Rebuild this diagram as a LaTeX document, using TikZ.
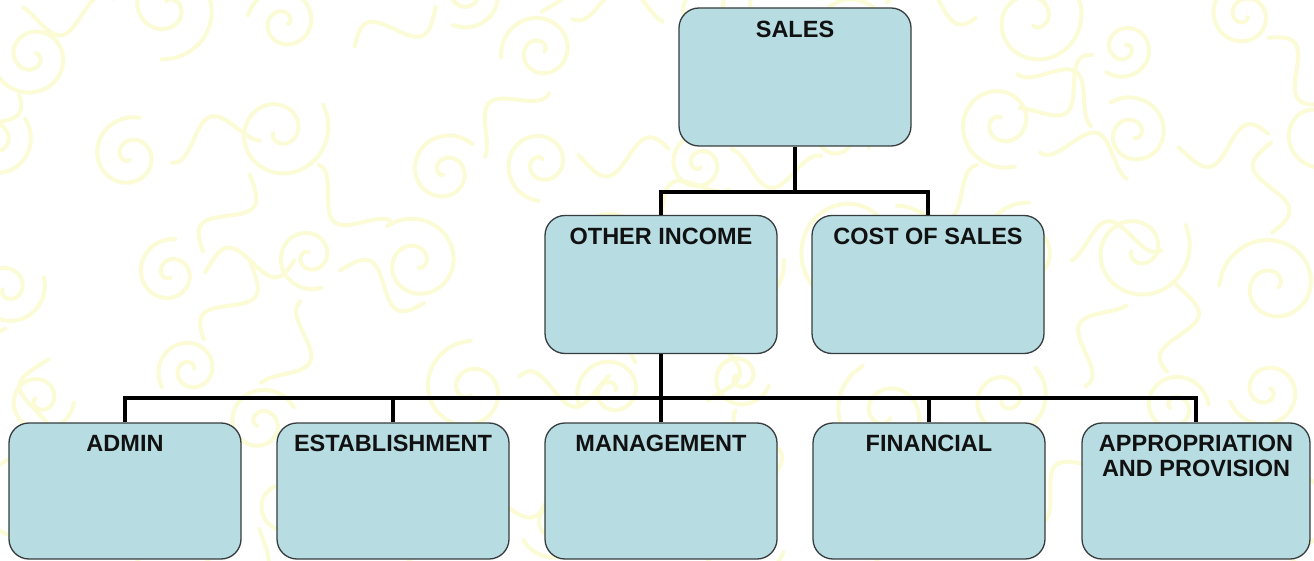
\documentclass[tikz,border=0pt]{standalone}
\usepackage{fontspec}
\setmainfont{Liberation Sans}
\definecolor{boxblue}{RGB}{183,221,227}
\definecolor{boxedge}{RGB}{55,60,62}
\definecolor{textdark}{RGB}{17,17,17}
\definecolor{swirlc}{RGB}{251,251,214}
\begin{document}
\begin{tikzpicture}[x=1pt,y=-1pt,
  box/.style={draw=boxedge, line width=1.3pt, fill=boxblue, rounded corners=20pt,
    minimum width=232pt, minimum height=138pt, inner sep=0pt},
  ttl/.style={font=\bfseries\fontsize{23.5}{25}\selectfont, text=textdark,
    inner sep=0pt, align=center, anchor=north},
  conn/.style={line width=4.5pt, draw=black, line join=miter},
  swirl/.style={draw=swirlc, line width=4pt, line cap=round}
]
\useasboundingbox (0,0) rectangle (1314,561);
\fill[white] (0,0) rectangle (1314,561);
\begin{scope}
\clip (0,0) rectangle (1314,561);
\pgfmathsetseed{11}
\foreach \i in {0,...,9}{
  \foreach \j in {0,...,4}{
    \pgfmathsetmacro{\cxx}{\i*140+rnd*80-20}
    \pgfmathsetmacro{\cyy}{\j*125+rnd*70-10}
    \pgfmathsetmacro{\rr}{30+rnd*28}
    \pgfmathsetmacro{\ang}{rnd*360}
    \pgfmathsetmacro{\sg}{ifthenelse(rnd<0.5,1,-1)}
    \draw[swirl] plot[domain=70:620, samples=40, smooth]
      ({\cxx+\rr*(\x/620)*cos(\sg*\x+\ang)}, {\cyy+\rr*(\x/620)*sin(\sg*\x+\ang)});
    \pgfmathsetmacro{\ph}{rnd*360}
    \pgfmathsetmacro{\rot}{\ang+\sg*620+\sg*90}
    \draw[swirl, rotate around={\rot:(\cxx,\cyy)}] plot[domain=0:1, samples=20, smooth]
      ({\cxx+\rr+90*\x}, {\cyy+18*sin(\x*360+\ph)});
  }
}
\end{scope}

% boxes
\node[box] (sales) at (795,77) {};
\node[box] (oi)    at (661,284.5) {};
\node[box] (cos)   at (928,284.5) {};
\node[box, minimum height=136pt] (admin) at (125,491) {};
\node[box, minimum height=136pt] (est)   at (393,491) {};
\node[box, minimum height=136pt] (mgmt)  at (661,491) {};
\node[box, minimum height=136pt] (fin)   at (929,491) {};
\node[box, minimum height=136pt, minimum width=228pt] (appr) at (1196,491) {};

% titles
\node[ttl] (t-sales) at ([yshift=-14pt]sales.north) {SALES};
\node[ttl] (t-oi)    at ([yshift=-13pt]oi.north) {OTHER INCOME};
\node[ttl] (t-cos)   at ([yshift=-13pt]cos.north) {COST OF SALES};
\node[ttl] (t-admin) at ([yshift=-13pt]admin.north) {ADMIN};
\node[ttl] (t-est)   at ([yshift=-13pt]est.north) {ESTABLISHMENT};
\node[ttl] (t-mgmt)  at ([yshift=-13pt]mgmt.north) {MANAGEMENT};
\node[ttl] (t-fin)   at ([yshift=-13pt]fin.north) {FINANCIAL};
\node[ttl] (t-appr)  at ([yshift=-13pt]appr.north) {APPROPRIATION\\AND PROVISION};

% connectors
\coordinate (j1) at (795,192);
\coordinate (j2) at (661,398);
\draw[conn] (sales.south) -- (j1);
\draw[conn] (oi.north) |- (j1) -| (cos.north);
\draw[conn] (oi.south) -- (j2);
\draw[conn] (admin.north) |- (j2) -| (appr.north);
\draw[conn] (est.north) -- (est.north |- j2);
\draw[conn] (mgmt.north) -- (j2);
\draw[conn] (fin.north) -- (fin.north |- j2);
\end{tikzpicture}
\end{document}
